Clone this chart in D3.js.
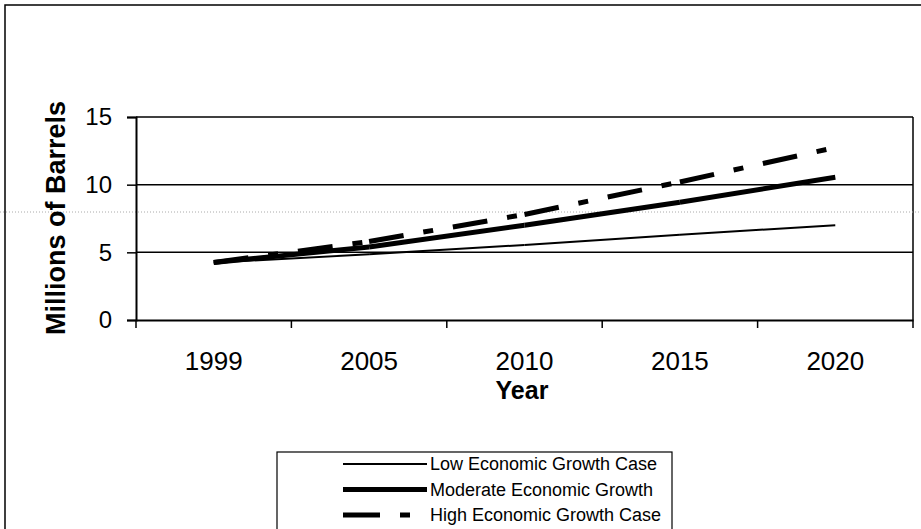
<!DOCTYPE html>
<html>
<head>
<meta charset="utf-8">
<script src="https://cdn.jsdelivr.net/npm/d3@7"></script>
<style>
  body { margin: 0; background: #fff; }
  svg { display: block; }
  svg text { font-family: Arial, "Liberation Sans", sans-serif; }
</style>
</head>
<body>
<div id="chart"></div>
<script>
var width = 921, height = 529;

// data
var years = ["1999", "2005", "2010", "2015", "2020"];
var lowCase = [4.25, 4.85, 5.55, 6.3, 7.0];
var moderateCase = [4.25, 5.4, 7.0, 8.7, 10.55];
var highCase = [4.25, 5.8, 7.8, 10.2, 12.75];
var yTicks = [0, 5, 10, 15];
var seriesNames = ["Low Economic Growth Case", "Moderate Economic Growth", "High Economic Growth Case"];

var series = [
  {name: seriesNames[0], values: lowCase, width: 2, dash: null},
  {name: seriesNames[1], values: moderateCase, width: 5, dash: null},
  {name: seriesNames[2], values: highCase, width: 5, dash: "35,20,10,20"}
];

var margin = {left: 136, right: 8, top: 117, bottom: 209};

var svg = d3.select("#chart").append("svg")
    .attr("width", width)
    .attr("height", height);

// outer chart border (runs off the page on the right and bottom)
svg.append("rect")
  .attr("x", 5).attr("y", 5)
  .attr("width", 940).attr("height", 560)
  .attr("fill", "none").attr("stroke", "#000").attr("stroke-width", 1.5);

var x = d3.scaleBand()
  .domain(years)
  .range([margin.left, width - margin.right]);

var y = d3.scaleLinear()
  .domain([0, 15])
  .range([height - margin.bottom, margin.top]);

// gridlines
svg.append("g")
  .selectAll("line")
  .data(yTicks.filter(function(d) { return d > 0; }))
  .join("line")
    .attr("x1", margin.left).attr("x2", width - margin.right)
    .attr("y1", function(d) { return y(d); }).attr("y2", function(d) { return y(d); })
    .attr("stroke", "#000").attr("stroke-width", 1.5);

// right side of plot area
svg.append("line")
  .attr("x1", width - margin.right).attr("x2", width - margin.right)
  .attr("y1", y(15)).attr("y2", y(0))
  .attr("stroke", "#000").attr("stroke-width", 1.5);

// faint dotted scan line across the page
svg.append("line")
  .attr("x1", 0).attr("x2", width)
  .attr("y1", 212).attr("y2", 212)
  .attr("stroke", "#aaa").attr("stroke-width", 1)
  .attr("stroke-dasharray", "1,2");

// y axis
var yAxis = svg.append("g")
  .attr("transform", "translate(" + margin.left + ",0)")
  .call(d3.axisLeft(y).tickValues(yTicks).tickSize(9).tickPadding(15));
yAxis.attr("font-family", null);
yAxis.select(".domain").attr("stroke-width", 2);
yAxis.selectAll(".tick line").attr("stroke-width", 1.5);
yAxis.selectAll("text").style("font-size", "24px").attr("fill", "#000");

// x axis, ticks between categories
var xAxis = svg.append("g")
  .attr("transform", "translate(0," + y(0) + ")")
  .call(d3.axisBottom(x).tickSize(0).tickPadding(0));
xAxis.attr("font-family", null);
xAxis.select(".domain").attr("stroke-width", 2);
xAxis.selectAll("text")
  .attr("dy", null).attr("y", 50)
  .style("font-size", "26px").attr("fill", "#000");

var bounds = years.map(function(d) { return x(d); }).concat([x(years[years.length - 1]) + x.bandwidth()]);
svg.append("g")
  .selectAll("line")
  .data(bounds)
  .join("line")
    .attr("x1", function(d) { return d; }).attr("x2", function(d) { return d; })
    .attr("y1", y(0)).attr("y2", y(0) + 8)
    .attr("stroke", "#000").attr("stroke-width", 1.5);

// axis titles
svg.append("text")
  .attr("x", 522).attr("y", 399)
  .attr("text-anchor", "middle")
  .style("font-size", "25px").style("font-weight", "bold")
  .text("Year");

svg.append("text")
  .attr("transform", "translate(65,218) rotate(-90)")
  .attr("text-anchor", "middle")
  .style("font-size", "27px").style("font-weight", "bold")
  .text("Millions of Barrels");

// series lines, each segment drawn on its own so the dash pattern restarts at every point
var cx = function(i) { return x(years[i]) + x.bandwidth() / 2; };
var line = d3.line();

series.forEach(function(s) {
  var segs = d3.pairs(s.values.map(function(v, i) { return [cx(i), y(v)]; }));
  svg.append("g")
    .selectAll("path")
    .data(segs)
    .join("path")
      .attr("d", function(d) { return line(d); })
      .attr("fill", "none")
      .attr("stroke", "#000")
      .attr("stroke-width", s.width)
      .attr("stroke-dasharray", s.dash);
});

// legend
var legend = svg.append("g");
legend.append("rect")
  .attr("x", 277).attr("y", 452)
  .attr("width", 395).attr("height", 100)
  .attr("fill", "#fff").attr("stroke", "#000").attr("stroke-width", 1.2);

var rows = legend.selectAll("g.row")
  .data(series)
  .join("g")
    .attr("class", "row")
    .attr("transform", function(d, i) { return "translate(0," + (464 + i * 25.5) + ")"; });

rows.append("path")
  .attr("d", function(d) { return line([[343, 0], [427, 0]]); })
  .attr("stroke", "#000")
  .attr("stroke-width", function(d) { return d.width; })
  .attr("stroke-dasharray", function(d) { return d.dash ? "37,20,10,30" : null; });

rows.append("text")
  .attr("x", 430).attr("y", 0)
  .attr("dy", "0.35em")
  .style("font-size", "18px")
  .text(function(d) { return d.name; });
</script>
</body>
</html>
